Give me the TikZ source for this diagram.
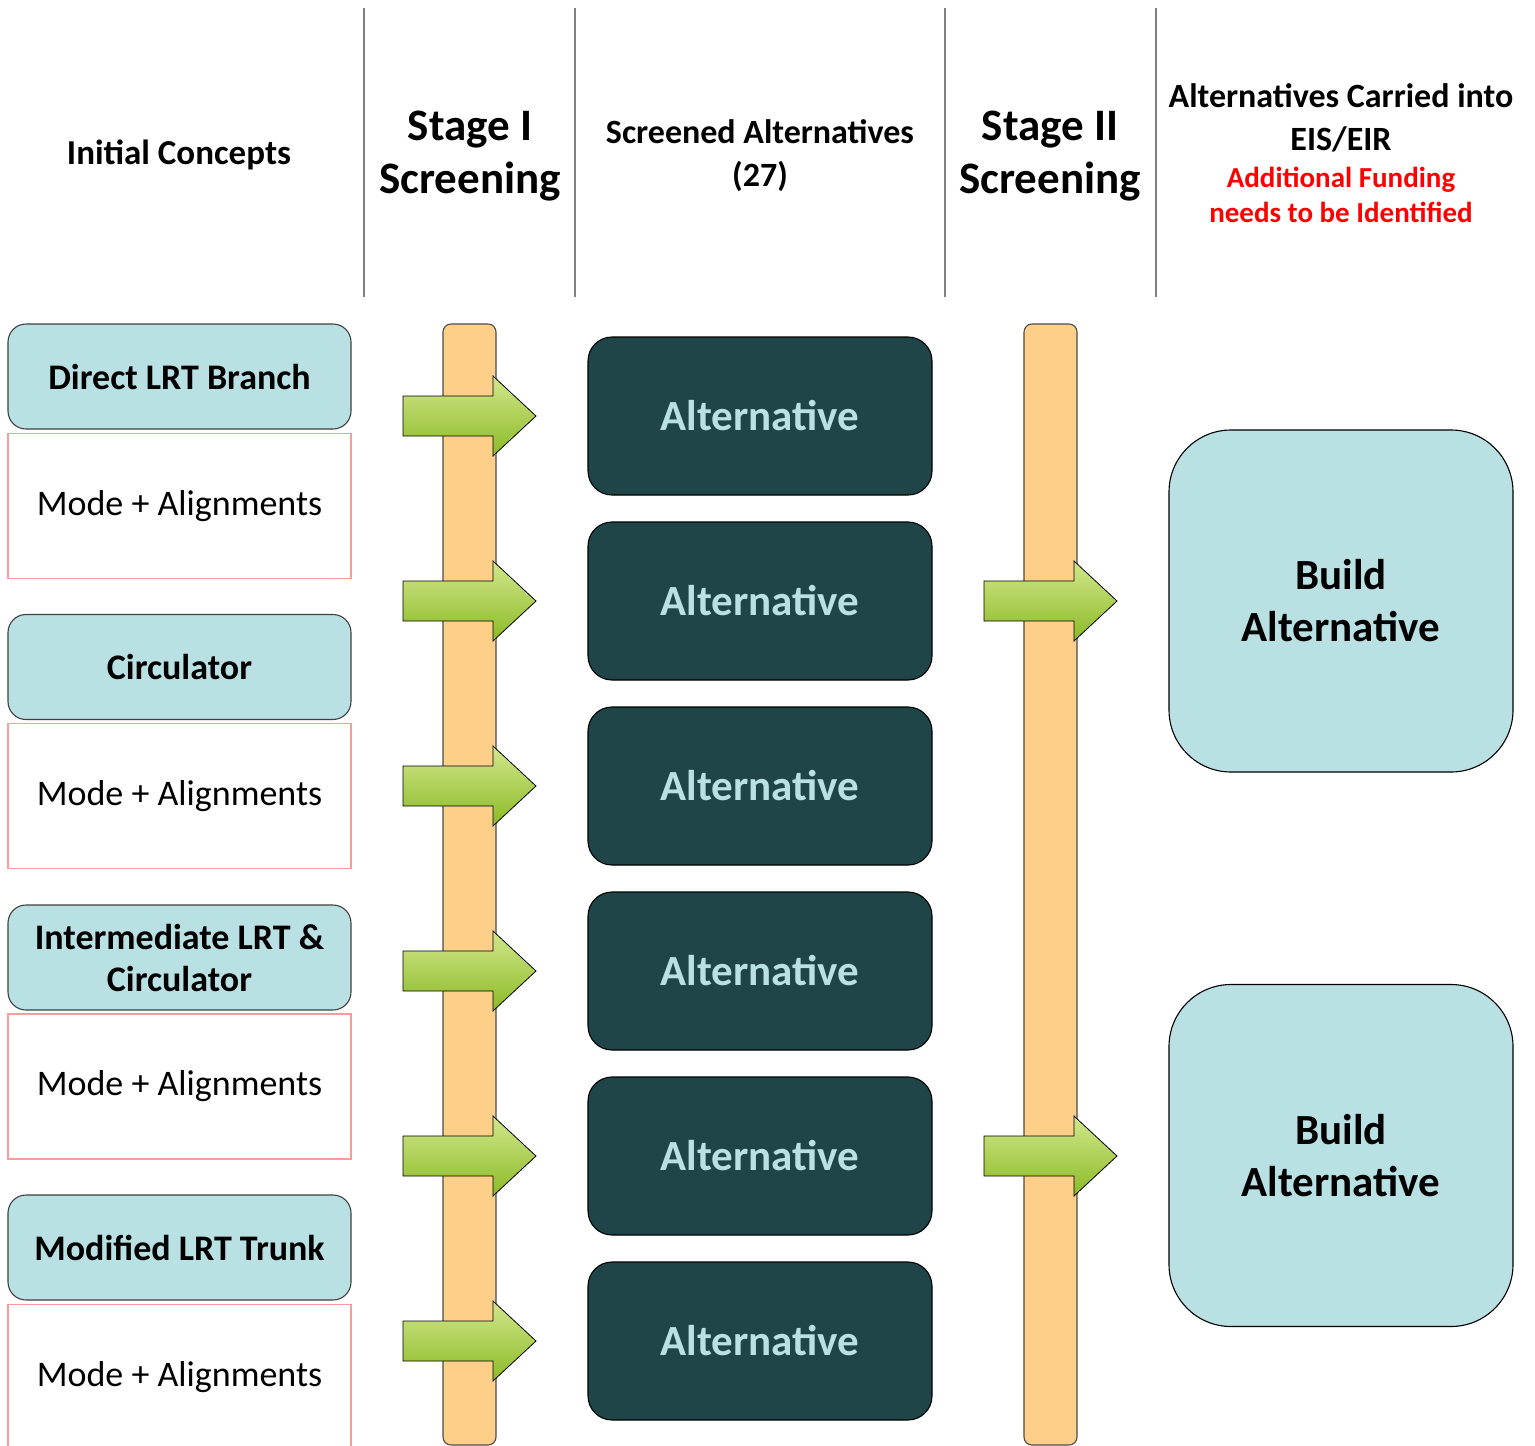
\documentclass[tikz,border=0pt]{standalone}
\usepackage{fontspec}
\setmainfont{Carlito}
\usetikzlibrary{positioning}
\definecolor{paleteal}{HTML}{B9E0E3}
\definecolor{deepteal}{HTML}{1F4549}
\definecolor{barorange}{HTML}{FECF89}
\definecolor{modered}{HTML}{FF9A9A}
\definecolor{greentop}{HTML}{D2E78C}
\definecolor{greenbot}{HTML}{8BBA25}
\newcommand{\screenarrow}[2]{\shadedraw[top color=greentop, bottom color=greenbot, draw=black, line width=.8pt, line join=miter](#1, #2-20)--++(90, 0)--++(0, -20)--++(43, 40)--++(-43, 40)--++(0, -20)--++(-90, 0)--cycle;}
\tikzset{
	concept/.style={draw=black!75, line width=1.1pt, fill=paleteal, rounded corners=18pt, minimum width=343pt, minimum height=105pt, align=center, font=\fontsize{36}{42}\selectfont\bfseries},
	modebox/.style={draw=modered, line width=1.1pt, fill=white, minimum width=343pt, minimum height=145pt, font=\fontsize{36}{40}\selectfont},
	altbox/.style={draw=black, line width=1.1pt, fill=deepteal, rounded corners=24pt, minimum width=344pt, minimum height=158pt, text=paleteal, font=\fontsize{43}{48}\selectfont\bfseries},
	buildbox/.style={draw=black, line width=1.1pt, fill=paleteal, rounded corners=62pt, minimum width=344pt, minimum height=342pt, align=center, font=\fontsize{43}{52}\selectfont\bfseries},
	sievebar/.style={draw=black!70, line width=1.1pt, fill=barorange, rounded corners=8pt, minimum width=53pt, minimum height=1121pt},
	colhead/.style={align=center, font=\fontsize{34}{43}\selectfont\bfseries},
	divider/.style={draw=black!50, line width=1.5pt}
}
\begin{document}
\begin{tikzpicture}[x=1pt, y=-1pt]
	\useasboundingbox(0, 0) rectangle (1535, 1446);
	% column heads
	\draw[divider](364, 8)--(364, 297);
	\draw[divider](575, 8)--(575, 297);
	\draw[divider](945, 8)--(945, 297);
	\draw[divider](1156, 8)--(1156, 297);
	\node[colhead, font=\fontsize{35}{43}\selectfont\bfseries] (h1) at (179, 155) {Initial Concepts};
	\node[colhead, font=\fontsize{45}{53}\selectfont\bfseries] (h2) at (470, 156) {Stage I\\Screening};
	\node[colhead] (h3) at (760, 156) {Screened Alternatives\\(27)};
	\node[colhead, font=\fontsize{45}{53}\selectfont\bfseries] (h4) at (1050, 156) {Stage II\\Screening};
	\node[colhead] (h5) at (1341, 118) {Alternatives Carried into\\EIS/EIR};
	\node[colhead, text=red, font=\fontsize{29}{35}\selectfont\bfseries] (h6) at (1341, 195) {Additional Funding\\needs to be Identified};
	% initial concepts
	\node[concept] (c1) at (179.5, 376.5) {Direct LRT Branch};
	\node[modebox] (m1) at (179.5, 506) {Mode + Alignments};
	\node[concept] (c2) at (179.5, 667) {Circulator};
	\node[modebox] (m2) at (179.5, 796) {Mode + Alignments};
	\node[concept] (c3) at (179.5, 957.5) {Intermediate LRT \&\\Circulator};
	\node[modebox] (m3) at (179.5, 1086.5) {Mode + Alignments};
	\node[concept] (c4) at (179.5, 1247.5) {Modified LRT Trunk};
	\node[modebox] (m4) at (179.5, 1377) {Mode + Alignments};
	% screening bars
	\node[sievebar] (s1) at (469.5, 884.5) {};
	\node[sievebar] (s2) at (1050.5, 884.5) {};
	% screened alternatives
	\node[altbox] (a1) at (760, 416) {Alternative};
	\node[altbox] (a2) at (760, 601) {Alternative};
	\node[altbox] (a3) at (760, 786) {Alternative};
	\node[altbox] (a4) at (760, 971) {Alternative};
	\node[altbox] (a5) at (760, 1156) {Alternative};
	\node[altbox] (a6) at (760, 1341) {Alternative};
	% carried into EIS/EIR
	\node[buildbox] (b1) at (1341, 601) {Build\\Alternative};
	\node[buildbox] (b2) at (1341, 1155.5) {Build\\Alternative};
	% arrows
	\screenarrow{403}{416}
	\screenarrow{403}{601}
	\screenarrow{403}{786}
	\screenarrow{403}{971}
	\screenarrow{403}{1156}
	\screenarrow{403}{1341}
	\screenarrow{984}{601}
	\screenarrow{984}{1156}
\end{tikzpicture}
\end{document}
